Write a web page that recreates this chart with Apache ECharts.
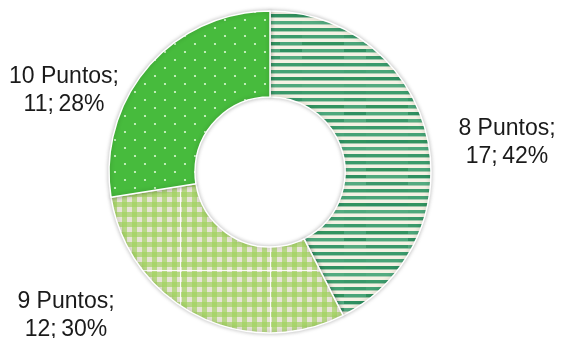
<!DOCTYPE html>
<html>
<head>
<meta charset="utf-8">
<script src="https://cdn.jsdelivr.net/npm/echarts@6/dist/echarts.min.js"></script>
<style>
html,body{margin:0;padding:0;background:#fff;}
#chart{width:561px;height:338px;}
</style>
</head>
<body>
<div id="chart"></div>
<script>
// Data
var categories = ['8 Puntos', '9 Puntos', '10 Puntos'];
var values = [17, 12, 11];
var percentLabels = ['42%', '30%', '28%'];

function makeCanvas(w, h) {
  var c = document.createElement('canvas');
  c.width = w; c.height = h;
  return c;
}

// Horizontal green stripes on cream
function stripePattern() {
  var w = 64, h = 63;
  var c = makeCanvas(w, h), g = c.getContext('2d');
  g.fillStyle = '#f4f1e3';
  g.fillRect(0, 0, w, h);
  var shades = ['#3a9a6b', '#4aa579', '#2f9061', '#54ab80', '#3d9c6d', '#45a275', '#32935f', '#4ea87c', '#3a986a'];
  for (var i = 0; i < 9; i++) {
    var y = i * 7;
    g.fillStyle = shades[i];
    g.fillRect(0, y, w, 3);
    g.globalAlpha = 0.45;
    g.fillRect(0, y + 3, w, 1);
    g.globalAlpha = 1;
    g.fillStyle = shades[(i + 4) % 9];
    g.fillRect(24, y, 22, 3);
  }
  return c;
}

// Light green gingham
function ginghamPattern() {
  var w = 90, h = 90;
  var c = makeCanvas(w, h), g = c.getContext('2d');
  g.fillStyle = '#e7e3d7';
  g.fillRect(0, 0, w, h);
  var p = 10;
  g.fillStyle = 'rgba(160,210,92,0.66)';
  for (var x = 0; x < w; x += p) g.fillRect(x + 2, 0, 5, h);
  for (var y = 0; y < h; y += p) g.fillRect(0, y + 2, w, 5);
  g.fillStyle = 'rgba(255,255,255,0.9)';
  g.fillRect(0, 0, w, 1);
  g.fillRect(0, 0, 1, h);
  return c;
}

// Green with white dots
function dotPattern() {
  var w = 20, h = 16;
  var c = makeCanvas(w, h), g = c.getContext('2d');
  g.fillStyle = '#47bb3d';
  g.fillRect(0, 0, w, h);
  g.fillStyle = 'rgba(235,255,228,0.9)';
  g.beginPath(); g.arc(5, 4, 1.1, 0, Math.PI * 2); g.fill();
  g.beginPath(); g.arc(15, 12, 1.1, 0, Math.PI * 2); g.fill();
  return c;
}

var patterns = [stripePattern(), ginghamPattern(), dotPattern()];
var labelPos = [[507, 143], [66, 316], [64, 91]];

var data = categories.map(function (name, i) {
  return {
    name: name,
    value: values[i],
    itemStyle: { color: { image: patterns[i], repeat: 'repeat' } }
  };
});

var chart = echarts.init(document.getElementById('chart'));
chart.setOption({
  animation: false,
  series: [{
    type: 'pie',
    center: [270, 172],
    radius: [75, 161],
    startAngle: 90,
    clockwise: true,
    data: data,
    itemStyle: {
      borderColor: '#ffffff',
      borderWidth: 1.5,
      shadowBlur: 4,
      shadowColor: 'rgba(0,0,0,0.25)'
    },
    label: {
      show: true,
      position: 'outside',
      overflow: 'none',
      fontFamily: 'Liberation Sans, Arial, sans-serif',
      fontSize: 23,
      lineHeight: 28,
      color: '#1a1a1a',
      align: 'center',
      formatter: function (p) {
        return p.name + ';\n' + p.value + ';\u2009' + percentLabels[p.dataIndex];
      }
    },
    labelLine: { show: false },
    labelLayout: function (params) {
      var pos = labelPos[params.dataIndex];
      return { x: pos[0], y: pos[1], align: 'center', verticalAlign: 'middle', width: 200 };
    }
  }]
});
</script>
</body>
</html>
